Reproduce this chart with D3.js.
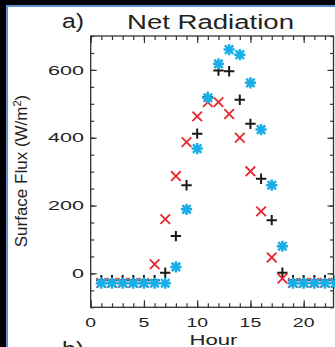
<!DOCTYPE html>
<html>
<head>
<meta charset="utf-8">
<script src="https://cdn.jsdelivr.net/npm/d3@7"></script>
<style>
  html, body { margin: 0; padding: 0; background: #000; }
  svg { display: block; }
  text { font-family: "Liberation Sans", Arial, sans-serif; fill: #222; }
</style>
</head>
<body>
<svg id="chart" width="335" height="347"></svg>
<script>
// Hourly net radiation (W/m^2) for three runs
const hours = [1, 2, 3, 4, 5, 6, 7, 8, 9, 10, 11, 12, 13, 14, 15, 16, 17, 18, 19, 20, 21, 22, 23];
const seriesBlack = [-20, -20, -20, -20, -20, -20, 2, 110, 260, 412, 520, 598, 596, 512, 441, 279, 157, 2, -20, -20, -20, -20, -20];
const seriesRed = [-28, -28, -28, -28, -28, 27, 160, 287, 387, 463, 505, 505, 470, 400, 301, 183, 47, -15, -28, -28, -28, -28, -28];
const seriesBlue = [-29, -29, -29, -29, -29, -29, -29, 19, 189, 368, 518, 618, 660, 645, 562, 424, 260, 80, -29, -29, -29, -29, -29];

const xMajor = [0, 5, 10, 15, 20];
const xMinor = [0, 1, 2, 3, 4, 5, 6, 7, 8, 9, 10, 11, 12, 13, 14, 15, 16, 17, 18, 19, 20, 21, 22];
const yMajor = [0, 200, 400, 600];
const yMinor = [-100, -50, 0, 50, 100, 150, 200, 250, 300, 350, 400, 450, 500, 550, 600, 650, 700];

const svg = d3.select("#chart");

// page frame: dark border with a thin blue rule
svg.append("rect").attr("x", 0).attr("y", 0).attr("width", 335).attr("height", 347).attr("fill", "#000");
svg.append("rect").attr("x", 6).attr("y", 5).attr("width", 329).attr("height", 342).attr("fill", "#5d8fcc");
svg.append("rect").attr("x", 8).attr("y", 7).attr("width", 327).attr("height", 340).attr("fill", "#fff");

const plotLeft = 90.7, plotRight = 333.5, plotTop = 36, plotBottom = 307.3;
const x = d3.scaleLinear().domain([0, 22.8]).range([plotLeft, plotRight]);
const y = d3.scaleLinear().domain([-100, 700]).range([plotBottom, plotTop]);

const axisColor = "#333";
function styleAxis(g) {
  g.select(".domain").remove();
  g.selectAll(".tick line").attr("stroke", axisColor).attr("stroke-width", 1.2);
}

// minor and major ticks on all four sides, pointing inward
svg.append("g").attr("transform", `translate(0,${plotBottom})`)
  .call(d3.axisBottom(x).tickValues(xMinor).tickSize(-4).tickFormat("")).call(styleAxis);
svg.append("g").attr("transform", `translate(0,${plotBottom})`)
  .call(d3.axisBottom(x).tickValues(xMajor).tickSize(-7).tickFormat("")).call(styleAxis);
svg.append("g").attr("transform", `translate(0,${plotTop})`)
  .call(d3.axisTop(x).tickValues(xMinor).tickSize(-4).tickFormat("")).call(styleAxis);
svg.append("g").attr("transform", `translate(0,${plotTop})`)
  .call(d3.axisTop(x).tickValues(xMajor).tickSize(-7).tickFormat("")).call(styleAxis);
svg.append("g").attr("transform", `translate(${plotLeft},0)`)
  .call(d3.axisLeft(y).tickValues(yMinor).tickSize(-3.5).tickFormat("")).call(styleAxis);
svg.append("g").attr("transform", `translate(${plotLeft},0)`)
  .call(d3.axisLeft(y).tickValues(yMajor).tickSize(-6).tickFormat("")).call(styleAxis);
svg.append("g").attr("transform", `translate(${plotRight},0)`)
  .call(d3.axisRight(y).tickValues(yMinor).tickSize(-3.5).tickFormat("")).call(styleAxis);
svg.append("g").attr("transform", `translate(${plotRight},0)`)
  .call(d3.axisRight(y).tickValues(yMajor).tickSize(-6).tickFormat("")).call(styleAxis);

// plot frame
svg.append("rect").attr("x", plotLeft).attr("y", plotTop)
  .attr("width", plotRight - plotLeft).attr("height", plotBottom - plotTop)
  .attr("fill", "none").attr("stroke", axisColor).attr("stroke-width", 1.3);

// tick labels
svg.append("g").selectAll("text").data(xMajor).join("text")
  .attr("x", d => x(d)).attr("y", 326.7)
  .attr("text-anchor", "middle").attr("font-size", 13)
  .attr("textLength", d => String(d).length * 10.8).attr("lengthAdjust", "spacingAndGlyphs")
  .text(d => d);
svg.append("g").selectAll("text").data(yMajor).join("text")
  .attr("x", 84).attr("y", d => y(d) + 4.6)
  .attr("text-anchor", "end").attr("font-size", 13)
  .attr("textLength", d => String(d).length * 12).attr("lengthAdjust", "spacingAndGlyphs")
  .text(d => d);

// titles
svg.append("text").attr("x", 127).attr("y", 28.5).attr("font-size", 20)
  .attr("textLength", 167).attr("lengthAdjust", "spacingAndGlyphs").text("Net Radiation");
svg.append("text").attr("x", 62).attr("y", 27.5).attr("font-size", 20)
  .attr("textLength", 22).attr("lengthAdjust", "spacingAndGlyphs").text("a)");
// label of the panel below, only its top shows at the page edge
svg.append("text").attr("x", 62).attr("y", 356).attr("font-size", 20)
  .attr("textLength", 22).attr("lengthAdjust", "spacingAndGlyphs").text("b)");
svg.append("text").attr("x", 213.5).attr("y", 344.5).attr("text-anchor", "middle").attr("font-size", 15.5)
  .attr("textLength", 48).attr("lengthAdjust", "spacingAndGlyphs").text("Hour");

const yl = svg.append("text").attr("transform", "translate(27,171) rotate(-90)")
  .attr("text-anchor", "middle").attr("font-size", 17);
yl.append("tspan").text("Surface Flux (W/m");
yl.append("tspan").attr("dy", -6).attr("font-size", 11).text("2");
yl.append("tspan").attr("dy", 6).text(")");

// markers
const marks = svg.append("g");
function plus(g, cx, cy, color) {
  const s = 5.2;
  g.append("path").attr("d", `M${cx - s},${cy}H${cx + s}M${cx},${cy - s}V${cy + s}`)
    .attr("stroke", color).attr("stroke-width", 2).attr("fill", "none");
}
function cross(g, cx, cy, color) {
  const r = 4.8;
  g.append("path").attr("d", `M${cx - r},${cy - r}L${cx + r},${cy + r}M${cx - r},${cy + r}L${cx + r},${cy - r}`)
    .attr("stroke", color).attr("stroke-width", 1.8).attr("fill", "none");
}
function star(g, cx, cy, color) {
  const r = 5.6, d = 4.2;
  g.append("path").attr("d",
    `M${cx - r},${cy}H${cx + r}M${cx},${cy - r}V${cy + r}` +
    `M${cx - d},${cy - d}L${cx + d},${cy + d}M${cx - d},${cy + d}L${cx + d},${cy - d}`)
    .attr("stroke", color).attr("stroke-width", 2.5).attr("fill", "none");
}
hours.forEach((h, i) => plus(marks, x(h), y(seriesBlack[i]), "#1a1a1a"));
hours.forEach((h, i) => cross(marks, x(h), y(seriesRed[i]), "#e8262e"));
hours.forEach((h, i) => star(marks, x(h), y(seriesBlue[i]), "#19afe6"));
</script>
</body>
</html>
